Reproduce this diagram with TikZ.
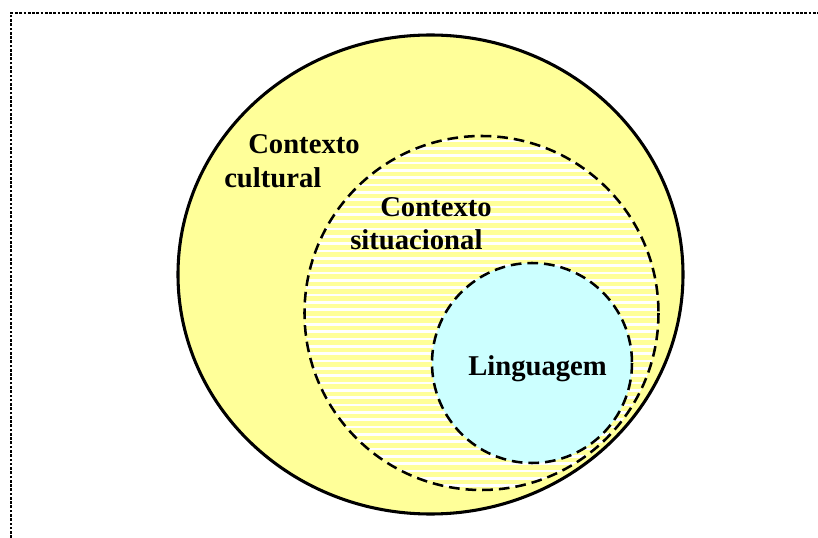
\documentclass[tikz,border=0pt]{standalone}
\usepackage{fontspec}
\setmainfont{Liberation Serif}
\definecolor{cyell}{HTML}{FFFF99}
\definecolor{ccyan}{HTML}{CCFFFF}
\begin{document}
\begin{tikzpicture}[x=0.75pt,y=-0.75pt,
  lbl/.style={anchor=base west,inner sep=0pt,font=\fontsize{21.5pt}{26pt}\selectfont\bfseries},
  dashedline/.style={line width=1.9pt,dash pattern=on 8pt off 4.5pt}]
\useasboundingbox (0,0) rectangle (818,538);
\coordinate (bl) at (11,538);
\coordinate (tl) at (11,13);
\coordinate (tr) at (818,13);
\draw[line width=2pt,dash pattern=on 2pt off 1.2pt] (bl) -- (tl) -- (tr);
% outer
\coordinate (oc) at (430.5,274.5);
\draw[fill=cyell,line width=2.3pt] (oc) ellipse [x radius=252.5, y radius=239.5];
% middle
\coordinate (mc) at (481.5,313);
\fill[white] (mc) circle [radius=177];
\begin{scope}
\clip (mc) circle [radius=177];
\foreach \k in {0,...,50} {
  \fill[cyell] (300,{120.5+7.33*\k}) rectangle (660,{125.1+7.33*\k});
}
\end{scope}
\draw[dashedline] (mc) circle [radius=177];
% inner
\coordinate (ic) at (532,363);
\draw[fill=ccyan,dashedline] (ic) circle [radius=100];
\node[lbl] (t1) at (248,154) {Contexto};
\node[lbl] (t2) at (224,188) {cultural};
\node[lbl] (t3) at (380,217) {Contexto};
\node[lbl] (t4) at (350,250) {situacional};
\node[lbl] (t5) at (468,376) {Linguagem};
\end{tikzpicture}
\end{document}
